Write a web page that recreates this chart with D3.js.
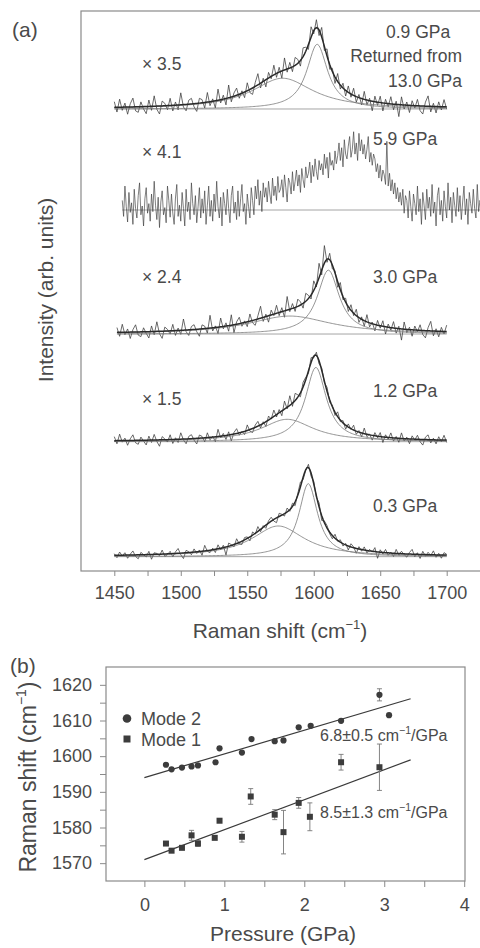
<!DOCTYPE html>
<html>
<head>
<meta charset="utf-8">
<script src="https://cdn.jsdelivr.net/npm/d3@7"></script>
<style>
  body { margin: 0; background: #fff; }
  text { font-family: "Liberation Sans", Arial, sans-serif; }
</style>
</head>
<body>
<svg id="chart" width="480" height="948"></svg>
<script>
// ---------- panel (a): Raman spectra ----------
const pressures = ['0.3 GPa', '1.2 GPa', '3.0 GPa', '5.9 GPa', '0.9 GPa'];
const factors = ['', '× 1.5', '× 2.4', '× 4.1', '× 3.5'];
const offsets = [0.167, 1.607, 2.955, 4.508, 5.773];   // baseline of each trace
const specStart = [1450, 1450, 1452, 1456, 1450];      // first wavenumber
const specStep = [2, 2, 2, 1, 2];                      // cm-1 between samples
// fitted Lorentzian components (null = no fit drawn)
const broadCenter = [1573.3, 1580.0, 1582.0, null, 1576.6];
const broadWidth = [24, 24, 38, null, 28];
const broadAmp = [0.384, 0.28, 0.225, null, 0.385];
const narrowCenter = [1595.9, 1601.6, 1611.0, null, 1602.6];
const narrowWidth = [8.5, 9.5, 10, null, 9.5];
const narrowAmp = [0.914, 0.93, 0.80, null, 0.81];

// residuals of the measured traces around the fit, in 0.01 units
const noise03 = [2,-3,4,-1,3,-4,1,5,-2,-5, 3,0,-3,4,-6,2,1,-2,5,-3, -1,3,-4,2,6,-2,-7,3,1,-3,
  4,-2,2,-5,7,-1,-3,2,-4,5, -2,3,-10,4,1,-3,6,-2,-4,3, 2,-5,4,-1,6,-3,2,-4,3,5,
  -2,-6,4,1,-3,5,-2,4,-5,2, 6,-3,-1,4,-4,3,-2,5,-6,2, 3,-2,-4,5,-1,3,-3,2,-5,4,
  1,-6,3,-2,4,-3,2,-1,5,-8, 3,-2,4,-3,1,-4,5,-2,3,-1, -4,2,6,-3,2,-5,4,-2,3,-1, 5,-3,2,-4,3,1];
const noise12 = [5,-4,8,-2,3,-6,2,7,-3,-5, 4,-1,-6,5,-3,7,-2,-8,4,1, -3,6,-5,2,-4,8,-1,-6,3,5,
  -2,-7,4,2,-5,6,-3,1,-6,9, -2,3,-5,4,-8,2,6,-3,1,-4, 7,-2,-5,3,6,-4,2,-6,5,-1,
  8,-3,4,-6,10,-2,12,-4,9,3, -5,6,3,-3,6,-2,4,-4,3,-2, 5,-3,2,-4,6,-2,3,-5,4,-1,
  6,-4,2,-5,7,-3,1,-6,4,-2, 5,-7,3,-2,6,-4,2,-5,7,-3, 2,-6,4,-1,5,-3,-7,3,6,-4, 2,-5,4,-2,6,-3];
const noise30 = [6,-5,10,-3,4,-8,3,9,-4,-6, 5,-2,-8,7,-4,12,-3,-9,5,2, -4,8,-6,3,-5,14,-2,-7,4,6,
  -3,-9,5,3,-6,16,-4,2,-8,11, -3,4,-7,13,-10,3,8,-4,2,-6, 9,-3,-7,4,15,-5,3,-8,6,-2,
  10,-4,5,-8,17,-3,6,-5,9,4, -6,10,4,-5,12,-3,18,-6,22,-4, 8,-5,3,-7,9,-4,5,-6,7,-3,
  8,-6,3,-7,9,-5,2,-8,6,-3, 7,-9,4,-3,8,-6,3,-14,9,-4, 3,-8,5,-2,7,-5,-9,4,12,-6, 3,-7,5,-3,8];
const noise09 = [7,-6,10,-4,5,-9,4,11,-5,-7, 6,-3,-9,8,-5,13,-4,-10,6,3, -5,9,-7,4,-6,15,-3,-8,5,7,
  -4,-10,6,4,-7,12,-5,3,-9,14, -4,5,-8,16,-6,4,9,-5,3,-7, 10,-4,-8,5,14,-6,4,-9,7,-3,
  12,-5,6,-9,15,-4,7,-6,10,5, -7,11,5,-6,13,-4,10,-7,12,-5, 9,-6,4,-8,10,-5,6,-7,8,-4,
  9,-7,4,-8,10,-6,3,-12,7,-4, 8,-10,5,-4,9,-7,4,-15,10,-5, 4,-9,6,-3,8,-6,-10,5,13,-7, 4,-8,6,-4,9,-3];
// 5.9 GPa has no fit: measured intensity above its baseline, 0.01 units, 1 cm-1 steps
const raw59 = [12,-8,30,4,-15,22,-3,9,-18,26, 2,-10,18,34,-6,5,-20,14,28,-4,
  8,-14,20,-2,36,6,-12,16,-22,10, 24,-6,3,-16,30,12,-9,20,-4,-18,
  15,32,-8,6,-14,22,2,-20,26,-2, 10,-12,34,8,-6,18,-16,4,28,-10,
  14,-4,24,-18,6,30,-8,12,-14,20, -2,36,4,-10,16,-20,22,8,-6,26,
  2,-16,18,30,-4,10,-12,24,-8,14, 32,-2,8,-18,20,4,-10,28,12,-6,
  30,14,38,6,24,-2,34,16,28,10, 36,20,8,40,18,30,12,42,22,26,
  38,16,44,28,10,40,34,20,48,24, 36,50,30,44,22,52,38,28,54,40,
  46,60,34,56,42,64,48,38,62,50, 58,44,70,52,66,40,72,56,62,50,
  74,58,68,84,62,78,54,88,70,64, 80,92,66,76,98,70,84,62,96,74,
  88,70,82,64,76,92,60,72,56,70, 64,48,58,40,56,36,50,44,32,86,
  30,46,24,38,20,34,14,28,10,22, 6,26,-4,18,12,-10,24,4,-14,20,
  8,-6,30,-2,14,-18,22,6,-12,26, 2,16,-8,32,-4,10,-20,18,28,-6,
  12,-14,24,4,-10,34,0,16,-16,22, 6,-8,28,-2,18,-12,10,30,-6,14,
  -18,22,8,-4,26,2,-10,32,-2,12, 6];
const specNoise = [noise03, noise12, noise30, raw59, noise09];

const xTicksA = d3.range(1450, 1701, 25);

// ---------- panel (b): peak positions vs pressure ----------
const mode2P = [0.27,0.34,0.47,0.59,0.67,0.89,0.94,1.22,1.34,1.63,1.74,1.93,2.08,2.46,2.94,3.06];
const mode2V = [1597.6,1596.3,1596.8,1597.1,1597.4,1598.3,1602.2,1601.0,1604.8,1604.2,1604.4,1608.1,1608.5,1609.9,1617.2,1611.5];
const mode2Err = [0,0,0,0,0,0,0,0,0,0,0,0,0,0,1.7,0];
const mode1P = [0.27,0.34,0.47,0.59,0.67,0.88,0.94,1.22,1.33,1.63,1.74,1.93,2.07,2.46,2.94];
const mode1V = [1575.5,1573.5,1574.3,1577.8,1575.5,1577.1,1581.9,1577.4,1588.7,1583.6,1578.7,1586.9,1583.0,1598.3,1596.9];
const mode1Err = [0,0,0,1.4,0.8,0,0,1.5,2.2,1.4,6.1,1.5,3.9,2.2,6.5];
const fitIntercept = [1594.0, 1571.0];   // mode 2, mode 1
const fitSlope = [6.64, 8.4];
const fitRange = [0, 3.33];
const slopeLabels = ['6.8±0.5 cm', '8.5±1.3 cm'];
const yTicksB = d3.range(1570, 1621, 5);
const xTicksB = d3.range(0, 4.01, 0.5);

const textColor = '#4a4a4a';
const frameColor = '#8a8a8a';
const svg = d3.select('#chart');

// Lorentzian line shape
const lorentz = (x, c, g, a) => a / (1 + ((x - c) / g) ** 2);

// ================= panel (a) =================
const xA = d3.scaleLinear().domain([1450, 1700]).range([114.3, 446.7]);
const yA = d3.scaleLinear().domain([0, 7]).range([570, 11]);
const lineA = d3.line().x(d => xA(d[0])).y(d => yA(d[1]));

const gA = svg.append('g');
gA.append('rect')
  .attr('x', 81).attr('y', 11).attr('width', 430).attr('height', 560)
  .attr('fill', 'none').attr('stroke', frameColor).attr('stroke-width', 1.2);

pressures.forEach((p, i) => {
  const base = offsets[i];
  const n = specNoise[i].length;
  const step = specStep[i];
  const x0 = specStart[i], x1 = x0 + step * (n - 1);
  const hasFit = broadCenter[i] !== null;
  const b = x => hasFit ? lorentz(x, broadCenter[i], broadWidth[i], broadAmp[i]) : 0;
  const nr = x => hasFit ? lorentz(x, narrowCenter[i], narrowWidth[i], narrowAmp[i]) : 0;

  // horizontal zero line
  gA.append('line')
    .attr('x1', xA(x0)).attr('x2', xA(x1))
    .attr('y1', yA(base)).attr('y2', yA(base))
    .attr('stroke', '#9a9a9a').attr('stroke-width', 0.9);

  // measured trace
  const raw = specNoise[i].map((v, k) => {
    const x = x0 + step * k;
    return [x, base + b(x) + nr(x) + v * 0.01];
  });
  gA.append('path').attr('d', lineA(raw))
    .attr('fill', 'none').attr('stroke', '#3a3a3a').attr('stroke-width', step === 1 ? 0.65 : 0.75);

  if (hasFit) {
    const grid = d3.range(x0, x1 + 0.01, 1);
    gA.append('path').attr('d', lineA(grid.map(x => [x, base + b(x)])))
      .attr('fill', 'none').attr('stroke', '#7a7a7a').attr('stroke-width', 0.8);
    gA.append('path').attr('d', lineA(grid.map(x => [x, base + nr(x)])))
      .attr('fill', 'none').attr('stroke', '#7a7a7a').attr('stroke-width', 0.8);
    gA.append('path').attr('d', lineA(grid.map(x => [x, base + b(x) + nr(x)])))
      .attr('fill', 'none').attr('stroke', '#2a2a2a').attr('stroke-width', 1.5);
  }
});

// spectrum labels
const labA = gA.append('g').attr('fill', textColor).attr('font-size', 17.5);
labA.append('text').attr('x', 373).attr('y', 511.7).text(pressures[0]);
labA.append('text').attr('x', 373).attr('y', 396.7).text(pressures[1]);
labA.append('text').attr('x', 142).attr('y', 405).text(factors[1]);
labA.append('text').attr('x', 373).attr('y', 283.3).text(pressures[2]);
labA.append('text').attr('x', 142).attr('y', 283.3).text(factors[2]);
labA.append('text').attr('x', 373).attr('y', 145).text(pressures[3]);
labA.append('text').attr('x', 142).attr('y', 158).text(factors[3]);
labA.append('text').attr('x', 386).attr('y', 38).text(pressures[4]);
labA.append('text').attr('x', 142).attr('y', 70).text(factors[4]);
labA.append('text').attr('x', 462).attr('y', 62).attr('text-anchor', 'end').text('Returned from');
labA.append('text').attr('x', 462).attr('y', 87).attr('text-anchor', 'end').text('13.0 GPa');

// x axis (a)
const axA = gA.append('g').attr('transform', 'translate(0,571)')
  .call(d3.axisBottom(xA).tickValues(xTicksA).tickSize(5).tickPadding(10)
    .tickFormat(d => d % 50 === 0 ? d : ''));
axA.select('.domain').remove();
axA.selectAll('line').attr('stroke', frameColor).attr('stroke-width', 1);
axA.selectAll('text').attr('font-size', 18).attr('fill', textColor)
  .attr('font-family', '"Liberation Sans", Arial, sans-serif');

const tA = gA.append('text').attr('x', 280).attr('y', 638).attr('text-anchor', 'middle')
  .attr('font-size', 21).attr('fill', textColor);
tA.append('tspan').text('Raman shift (cm');
tA.append('tspan').attr('font-size', 13).attr('dy', -9).text('−1');
tA.append('tspan').attr('dy', 9).text(')');

gA.append('text').attr('transform', 'translate(53,290) rotate(-90)')
  .attr('text-anchor', 'middle').attr('font-size', 21).attr('fill', textColor)
  .text('Intensity (arb. units)');
gA.append('text').attr('x', 12).attr('y', 37).attr('font-size', 21).attr('fill', textColor).text('(a)');

// ================= panel (b) =================
const xB = d3.scaleLinear().domain([-0.48, 4.01]).range([106, 465]);
const yB = d3.scaleLinear().domain([1565, 1625]).range([881, 667]);
const gB = svg.append('g');

gB.append('rect')
  .attr('x', xB(-0.48)).attr('y', yB(1625))
  .attr('width', xB(4.01) - xB(-0.48)).attr('height', yB(1565) - yB(1625))
  .attr('fill', 'none').attr('stroke', frameColor).attr('stroke-width', 1.2);

const axBy = gB.append('g').attr('transform', `translate(${xB(-0.48)},0)`)
  .call(d3.axisLeft(yB).tickValues(yTicksB).tickSize(6).tickPadding(8)
    .tickFormat(d => d % 10 === 0 ? d : ''));
const axBx = gB.append('g').attr('transform', `translate(0,${yB(1565)})`)
  .call(d3.axisBottom(xB).tickValues(xTicksB).tickSize(6).tickPadding(11)
    .tickFormat(d => Number.isInteger(d) ? d : ''));
[axBy, axBx].forEach(ax => {
  ax.select('.domain').remove();
  ax.selectAll('line').attr('stroke', frameColor).attr('stroke-width', 1);
  ax.selectAll('text').attr('font-size', 18).attr('fill', textColor)
    .attr('font-family', '"Liberation Sans", Arial, sans-serif');
});

// linear fits
fitIntercept.forEach((c, i) => {
  gB.append('line')
    .attr('x1', xB(fitRange[0])).attr('y1', yB(c + fitSlope[i] * fitRange[0]))
    .attr('x2', xB(fitRange[1])).attr('y2', yB(c + fitSlope[i] * fitRange[1]))
    .attr('stroke', '#3a3a3a').attr('stroke-width', 1.2);
});

// error bars
function errorBars(P, V, E) {
  P.forEach((p, i) => {
    if (!E[i]) return;
    const x = xB(p), yt = yB(V[i] + E[i]), yb = yB(V[i] - E[i]);
    const g = gB.append('g').attr('stroke', '#777').attr('stroke-width', 0.9);
    g.append('line').attr('x1', x).attr('x2', x).attr('y1', yt).attr('y2', yb);
    g.append('line').attr('x1', x - 2.5).attr('x2', x + 2.5).attr('y1', yt).attr('y2', yt);
    g.append('line').attr('x1', x - 2.5).attr('x2', x + 2.5).attr('y1', yb).attr('y2', yb);
  });
}
errorBars(mode2P, mode2V, mode2Err);
errorBars(mode1P, mode1V, mode1Err);

gB.selectAll('circle.m2').data(mode2P).join('circle')
  .attr('cx', d => xB(d)).attr('cy', (d, i) => yB(mode2V[i])).attr('r', 3.1)
  .attr('fill', '#3c3c3c');
gB.selectAll('rect.m1').data(mode1P).join('rect')
  .attr('x', d => xB(d) - 3).attr('y', (d, i) => yB(mode1V[i]) - 3)
  .attr('width', 6).attr('height', 6).attr('fill', '#3c3c3c');

// legend
gB.append('circle').attr('cx', 127).attr('cy', 718.5).attr('r', 4.3).attr('fill', '#3c3c3c');
gB.append('rect').attr('x', 123.5).attr('y', 735.5).attr('width', 7).attr('height', 7).attr('fill', '#3c3c3c');
gB.append('text').attr('x', 141).attr('y', 725).attr('font-size', 18).attr('fill', textColor).text('Mode 2');
gB.append('text').attr('x', 141).attr('y', 746).attr('font-size', 18).attr('fill', textColor).text('Mode 1');

// slope annotations
[740.7, 818].forEach((y, i) => {
  const t = gB.append('text').attr('x', 320).attr('y', y).attr('font-size', 16).attr('fill', textColor);
  t.append('tspan').text(slopeLabels[i]);
  t.append('tspan').attr('font-size', 10.5).attr('dy', -7).text('−1');
  t.append('tspan').attr('dy', 7).text('/GPa');
});

// axis titles (b)
gB.append('text').attr('x', 283).attr('y', 941).attr('text-anchor', 'middle')
  .attr('font-size', 21).attr('fill', textColor).text('Pressure (GPa)');
const tB = gB.append('text').attr('transform', 'translate(36,777) rotate(-90)')
  .attr('text-anchor', 'middle').attr('font-size', 23).attr('fill', textColor);
tB.append('tspan').text('Raman shift (cm');
tB.append('tspan').attr('font-size', 14).attr('dy', -10).text('−1');
tB.append('tspan').attr('dy', 10).text(')');
gB.append('text').attr('x', 10).attr('y', 673).attr('font-size', 21).attr('fill', textColor).text('(b)');
</script>
</body>
</html>
